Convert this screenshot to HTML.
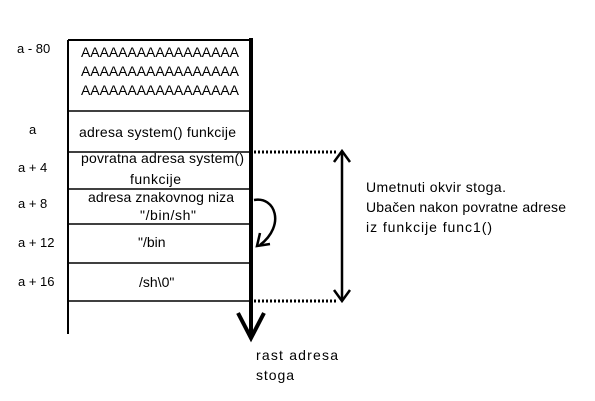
<!DOCTYPE html>
<html><head><style>
body{margin:0;width:595px;height:401px;background:#fff;overflow:hidden}
svg{display:block}
text{font-family:"Liberation Sans",sans-serif;font-size:14px;fill:#000}
.l{font-size:13px}
</style></head><body>
<svg width="595" height="401" viewBox="0 0 595 401">
<g stroke="#000" fill="none">
<line x1="68" y1="40" x2="68" y2="334" stroke-width="2"/>
<line x1="68" y1="40" x2="252" y2="40" stroke-width="2"/>
<g stroke-width="1.5">
<line x1="68" y1="111" x2="250" y2="111"/>
<line x1="68" y1="152" x2="250" y2="152"/>
<line x1="68" y1="189" x2="250" y2="189"/>
<line x1="68" y1="224" x2="250" y2="224"/>
<line x1="68" y1="263" x2="250" y2="263"/>
<line x1="68" y1="301" x2="250" y2="301"/>
</g>
<line x1="251" y1="38" x2="251" y2="338" stroke-width="4"/>
<polyline points="238,313 251,338 264,313" stroke-width="4"/>
<g stroke-width="3" stroke-dasharray="2,2">
<line x1="254" y1="152" x2="338" y2="152"/>
<line x1="254" y1="301" x2="338" y2="301"/>
</g>
<line x1="342" y1="152" x2="342" y2="300" stroke-width="2.5"/>
<polyline points="334,162 342,151 350,162" stroke-width="2.5"/>
<polyline points="334,290 342,301 350,290" stroke-width="2.5"/>
<path d="M254,200 C275,196 286,225 260,245" stroke-width="2.5"/>
<polyline points="260,233 257,246 270,244" stroke-width="2.5"/>
</g>
<g>
<text class="l" x="17" y="53">a - 80</text>
<text class="l" x="29" y="134">a</text>
<text class="l" x="18" y="172">a + 4</text>
<text class="l" x="18" y="208">a + 8</text>
<text class="l" x="18" y="247">a + 12</text>
<text class="l" x="18" y="286">a + 16</text>
<text x="81" y="57" textLength="158">AAAAAAAAAAAAAAAAA</text>
<text x="81" y="76" textLength="158">AAAAAAAAAAAAAAAAA</text>
<text x="81" y="95" textLength="158">AAAAAAAAAAAAAAAAA</text>
<text x="79" y="137" textLength="157">adresa system() funkcije</text>
<text x="81" y="163" textLength="163">povratna adresa system()</text>
<text x="130" y="184" textLength="51">funkcije</text>
<text x="88" y="202" textLength="146">adresa znakovnog niza</text>
<text x="140" y="220" textLength="56">"/bin/sh"</text>
<text x="138" y="247">"/bin</text>
<text x="139" y="287">/sh\0"</text>
<text x="256" y="360" textLength="82">rast adresa</text>
<text x="256" y="380" textLength="38">stoga</text>
<text x="366" y="192" textLength="140">Umetnuti okvir stoga.</text>
<text x="366" y="212" textLength="200">Ubačen nakon povratne adrese</text>
<text x="366" y="232" textLength="126">iz funkcije func1()</text>
</g>
</svg>
</body></html>
